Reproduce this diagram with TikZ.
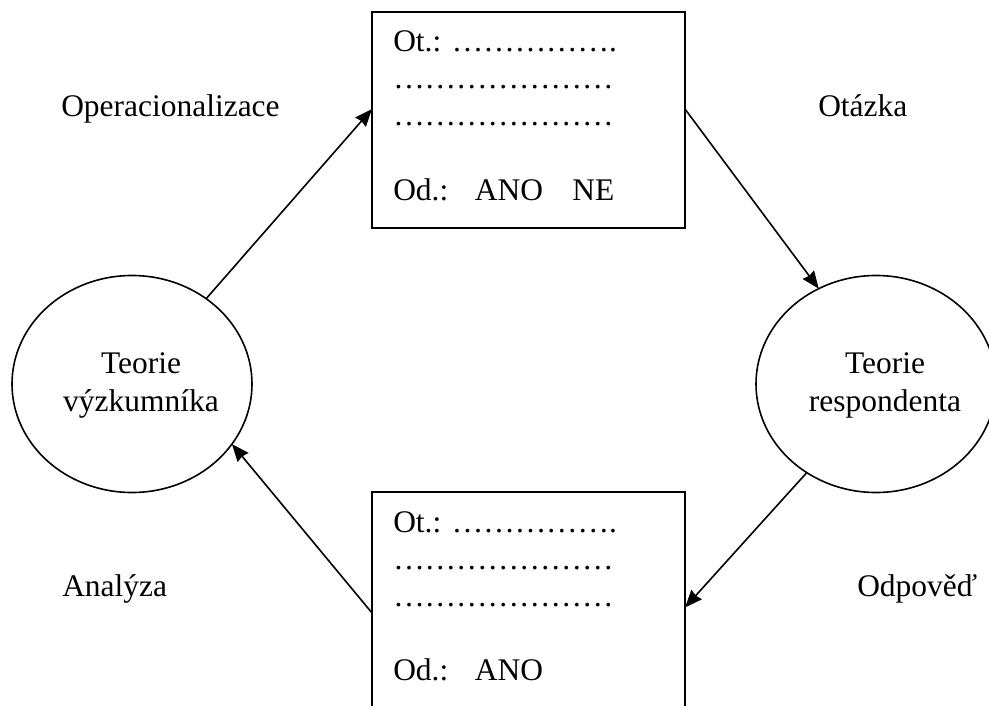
\documentclass[tikz,border=0pt]{standalone}
\usepackage{fontspec}
\setmainfont{Liberation Serif}
\usetikzlibrary{shapes.geometric}
\usetikzlibrary{arrows.meta}

\tikzset{
  teorie/.style={draw, ellipse, line width=1.2pt, minimum width=180pt, minimum height=162.75pt, inner sep=0pt, outer sep=0pt},
  dotaznik/.style={draw, rectangle, line width=1.2pt, minimum width=234.75pt, inner sep=0pt, outer sep=0pt},
  txt/.style={inner sep=0pt, font=\fontsize{23.6}{28}\selectfont},
  sipka/.style={line width=1.2pt, -{Stealth[length=13pt,width=10.5pt,inset=1pt]}}
}

\begin{document}
\begin{tikzpicture}[x=0.75pt,y=0.75pt,yscale=-1,xscale=1]
\useasboundingbox (0,0) rectangle (989,706);

%Shape: Ellipse [teorie vyzkumnika]
\node[teorie] (vyzk) at (132,384) {};
%Shape: Ellipse [teorie respondenta]
\node[teorie] (resp) at (876,384) {};
%Shape: Rectangle [otazky]
\node[dotaznik, minimum height=162pt] (otazky) at (528.5,120) {};
%Shape: Rectangle [odpovedi]
\node[dotaznik, minimum height=165pt] (odpovedi) at (528.5,602) {};

%Straight Lines
\draw[sipka] (vyzk.49.7) -- (otazky.176.3);
\draw[sipka] (otazky.4) -- (resp.121.6);
\draw[sipka] (resp.-128.2) -- (odpovedi.-2.9);
\draw[sipka] (odpovedi.-176.3) -- (vyzk.-31.9);

% Text Node
\node[txt, anchor=base] (vyzk1) at (141,373) {Teorie};
\node[txt, anchor=base] (vyzk2) at (141,411) {výzkumníka};
% Text Node
\node[txt, anchor=base] (resp1) at (885,373) {Teorie};
\node[txt, anchor=base] (resp2) at (885,411) {respondenta};

% Text Node
\node[txt, anchor=base west] (operac) at (61,117) {Operacionalizace};
\node[txt, anchor=base west] (otazka) at (818,117) {Otázka};
\node[txt, anchor=base west] (analyza) at (62,596) {Analýza};
\node[txt, anchor=base west] (odpoved) at (857,596) {Odpověď};

% Text Node
\node[txt, anchor=base west] (ot1) at (393,52) {Ot.: …………….};
\node[txt, anchor=base west] (ot2) at (393,89) {…………………};
\node[txt, anchor=base west] (ot3) at (393,126) {…………………};
\node[txt, anchor=base west] (od1) at (393,200) {Od.:\hspace{20pt}ANO\hspace{22pt}NE};
% Text Node
\node[txt, anchor=base west] (ot4) at (393,532) {Ot.: …………….};
\node[txt, anchor=base west] (ot5) at (393,569) {…………………};
\node[txt, anchor=base west] (ot6) at (393,606) {…………………};
\node[txt, anchor=base west] (od2) at (393,680) {Od.:\hspace{20pt}ANO};

\end{tikzpicture}
\end{document}
